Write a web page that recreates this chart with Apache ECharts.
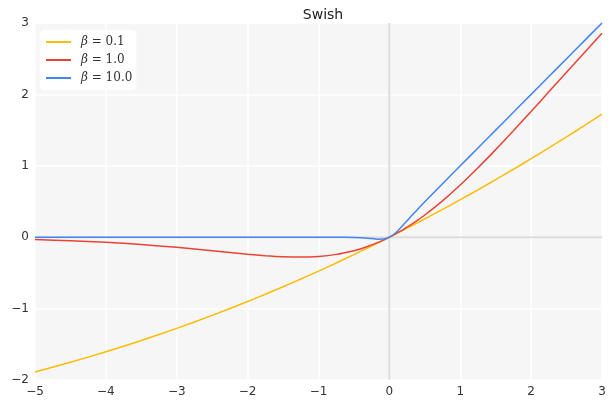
<!DOCTYPE html>
<html><head><meta charset="utf-8">
<script src="https://cdn.jsdelivr.net/npm/echarts@6/dist/echarts.min.js"></script>
<style>html,body{margin:0;padding:0;background:#fff}#c{width:611px;height:400px}</style>
</head><body><div id="c"></div>
<script>
var xs = [-5, -4.5, -4, -3.5, -3, -2.5, -2, -1.75, -1.5, -1.25, -1, -0.75, -0.5, -0.4, -0.3, -0.2, -0.15, -0.1, -0.05, 0, 0.05, 0.1, 0.15, 0.2, 0.3, 0.4, 0.5, 0.75, 1, 1.25, 1.5, 1.75, 2, 2.25, 2.5, 2.75, 3];
var beta01 = [-1.8877, -1.7521, -1.6052, -1.4468, -1.2767, -1.0946, -0.9003, -0.7986, -0.6939, -0.5860, -0.4750, -0.3609, -0.2438, -0.1960, -0.1478, -0.0990, -0.0744, -0.0498, -0.0249, 0, 0.0251, 0.0503, 0.0756, 0.1010, 0.1522, 0.2040, 0.2562, 0.3891, 0.5250, 0.6640, 0.8061, 0.9514, 1.0997, 1.2510, 1.4054, 1.5629, 1.7233];
var beta1 = [-0.0335, -0.0494, -0.0719, -0.1026, -0.1423, -0.1896, -0.2384, -0.2591, -0.2736, -0.2784, -0.2689, -0.2406, -0.1888, -0.1605, -0.1277, -0.0900, -0.0694, -0.0475, -0.0244, 0, 0.0256, 0.0525, 0.0806, 0.1100, 0.1723, 0.2395, 0.3112, 0.5094, 0.7311, 0.9716, 1.2264, 1.4909, 1.7616, 2.0356, 2.3104, 2.5848, 2.8577];
var beta10 = [0, 0, 0, 0, 0, 0, 0, 0, 0, 0, 0, -0.0004, -0.0034, -0.0072, -0.0142, -0.0238, -0.0274, -0.0269, -0.0189, 0, 0.0311, 0.0731, 0.1226, 0.1762, 0.2858, 0.3928, 0.4967, 0.7496, 1.0, 1.25, 1.5, 1.75, 2, 2.25, 2.5, 2.75, 3];
var seriesNames = ['β = 0.1', 'β = 1.0', 'β = 10.0'];
var seriesValues = [beta01, beta1, beta10];
var colors = ['#FBBC04', '#EA4335', '#4285F4'];
var xRange = [-5, 3];
var yRange = [-2, 3];

function pairs(v){ return xs.map(function(x,i){ return [x, v[i]]; }); }
function fmt(v){ return String(v).replace('-', '\u2212'); }

var series = [
  {type:'line', data:[[0, yRange[0]],[0, yRange[1]]], silent:true, z:1, showSymbol:false,
    lineStyle:{color:'#dcdcdc', width:2}, legendHoverLink:false},
  {type:'line', data:[[xRange[0], 0],[xRange[1], 0]], silent:true, z:1, showSymbol:false,
    lineStyle:{color:'#dcdcdc', width:2}, legendHoverLink:false}
];
seriesValues.forEach(function(v,i){
  series.push({name: seriesNames[i], type:'line', data: pairs(v), smooth: 0.25, showSymbol:false,
    lineStyle:{color: colors[i], width:1.5}, itemStyle:{color: colors[i]}, z: 3 + i});
});

var chart = echarts.init(document.getElementById('c'), null, {renderer:'canvas'});
chart.setOption({
  animation:false,
  title:{text:'Swish', left:318, textAlign:'center', top:3,
    textStyle:{fontFamily:'DejaVu Sans', fontSize:14, fontWeight:'normal', color:'#222'}},
  grid:{left:35, right:9, top:23, bottom:20, show:true, backgroundColor:'#f6f6f6', borderWidth:0},
  legend:{data: seriesNames, orient:'vertical', left:40, top:30, backgroundColor:'#fff', borderRadius:4,
    padding:[6,4,6,6], itemGap:6, itemWidth:25, itemHeight:2, icon:'rect',
    formatter:function(n){ var p = n.split(' = '); return '{i|β}{n| = ' + p[1] + '}'; },
    textStyle:{fontFamily:'DejaVu Serif', fontSize:12, color:'#333', padding:[0,0,0,5],
      rich:{i:{fontFamily:'DejaVu Serif', fontStyle:'italic', fontSize:12, color:'#333'},
            n:{fontFamily:'DejaVu Serif', fontSize:12, color:'#333'}}}},
  xAxis:{type:'value', min:xRange[0], max:xRange[1], interval:1,
    axisLine:{show:false}, axisTick:{show:false},
    axisLabel:{fontFamily:'DejaVu Sans', fontSize:12, color:'#333', margin:6, formatter:fmt},
    splitLine:{show:true, lineStyle:{color:'#ffffff', width:1.5}}},
  yAxis:{type:'value', min:yRange[0], max:yRange[1], interval:1,
    axisLine:{show:false}, axisTick:{show:false},
    axisLabel:{fontFamily:'DejaVu Sans', fontSize:12, color:'#333', margin:6, formatter:fmt},
    splitLine:{show:true, lineStyle:{color:'#ffffff', width:1.5}}},
  series: series
});
</script></body></html>
